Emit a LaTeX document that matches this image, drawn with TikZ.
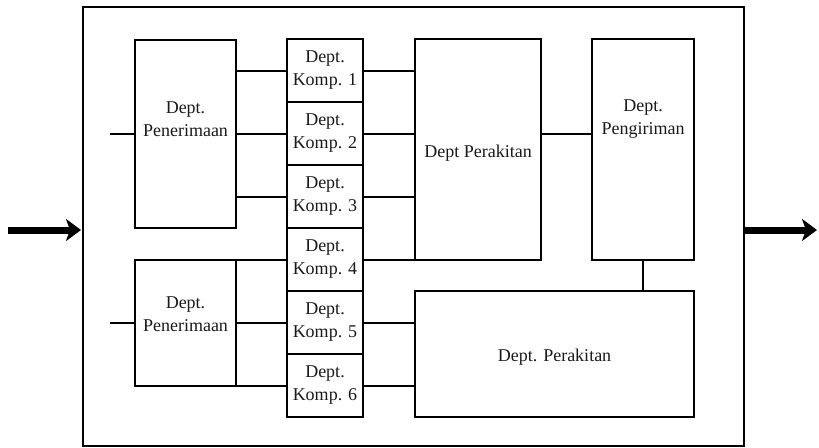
\documentclass[tikz,border=0pt]{standalone}
\usepackage{fontspec}
\setmainfont{Liberation Serif}
\usetikzlibrary{arrows.meta}
\begin{document}
\begin{tikzpicture}[x=1pt,y=-1pt,
  box/.style={draw, line width=2pt, inner sep=0pt, outer sep=0pt},
  wire/.style={line width=2pt},
  lbl/.style={align=center, inner sep=0pt, text=black!90,
    font=\fontsize{18}{23}\selectfont},
  bigarrow/.style={line width=7pt, -{Stealth[length=15pt,width=22pt,inset=4pt]}}]
\useasboundingbox (0,0) rectangle (819,447);

% plant boundary
\node[box, minimum width=661pt, minimum height=439pt] (plant) at (413.5,226.5) {};

% receiving departments
\node[box, minimum width=101pt, minimum height=188pt] (pen1) at (185.5,133.5) {};
\node[box, minimum width=101pt, minimum height=126pt] (pen2) at (185.5,322.5) {};
\node[lbl] (pen1t) at (185.5,119) {Dept.\\Penerimaan};
\node[lbl] (pen2t) at (185.5,314) {Dept.\\Penerimaan};

% component departments
\foreach \i/\y in {1/70.5,2/133.5,3/196.5,4/259.5,5/322.5,6/385.5}{
  \node[box, minimum width=76pt, minimum height=63pt] (k\i) at (325,\y) {};
  \node[lbl] (k\i t) at (325,\y) {Dept.\\Komp. \i};
}

% assembly and shipping
\node[box, minimum width=126pt, minimum height=221pt] (per1) at (478,149.5) {};
\node[lbl] (per1t) at (478,153) {Dept Perakitan};
\node[box, minimum width=102pt, minimum height=221pt] (kirim) at (643,149.5) {};
\node[lbl] (kirimt) at (643,119) {Dept.\\Pengiriman};
\node[box, minimum width=279pt, minimum height=126pt] (per2) at (554.5,354) {};
\node[lbl] (per2t) at (554.5,357) {Dept. Perakitan};

% inputs to receiving
\coordinate (in1) at (110,133.5);
\coordinate (in2) at (110,322.5);
\draw[wire] (in1) -- (pen1.west);
\draw[wire] (in2) -- (pen2.west);

% receiving to components
\foreach \i in {1,2,3}{ \draw[wire] (k\i.west -| pen1.east) -- (k\i.west); }
\draw[wire] (pen2.north west) -- (pen2.north west -| k4.west);
\draw[wire] (pen2.east) -- (k5.west);
\draw[wire] (pen2.south west) -- (pen2.south west -| k6.west);

% components to assembly
\foreach \i in {1,2,3,4}{ \draw[wire] (k\i.east) -- (k\i.east -| per1.west); }
\foreach \i in {5,6}{ \draw[wire] (k\i.east) -- (k\i.east -| per2.west); }

% assembly to shipping
\draw[wire] (per1.east |- k2) -- (kirim.west |- k2);
\draw[wire] (kirim.south) -- (kirim.south |- per2.north);

% material flow in and out
\coordinate (src) at (8,230);
\coordinate (dst) at (817,230);
\draw[bigarrow] (src) -- ([xshift=-2pt]plant.west |- src);
\draw[bigarrow] ([xshift=1pt]plant.east |- dst) -- (dst);
\end{tikzpicture}
\end{document}
